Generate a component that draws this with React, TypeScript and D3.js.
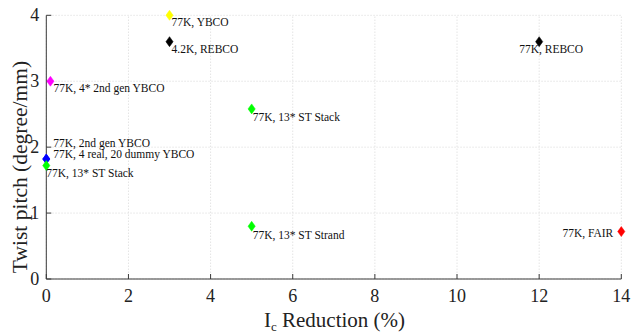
import React from "react";
import * as d3 from "d3";

const W = 633;
const H = 332;

const reduction = [3, 3, 0.1, 5, 0, 0, 0, 5, 12, 14];
const pitch = [4.0, 3.6, 3.0, 2.58, 1.82, 1.82, 1.72, 0.8, 3.6, 0.72];
const colors = ["#ffff00", "#000000", "#ff00ff", "#00ff00", "#0000ff", "#0000ff", "#00ff00", "#00ff00", "#000000", "#ff0000"];
const labels = [
  "77K, YBCO",
  "4.2K, REBCO",
  "77K, 4* 2nd gen YBCO",
  "77K, 13* ST Stack",
  "77K, 2nd gen YBCO",
  "77K, 4 real, 20 dummy YBCO",
  "77K, 13* ST Stack",
  "77K, 13* ST Strand",
  "77K, REBCO",
  "77K, FAIR",
];
// label placement: [dx, dy, anchor]
const labelPos: [number, number, string][] = [
  [2, 11, "start"],
  [2, 11, "start"],
  [3, 11, "start"],
  [1, 12, "start"],
  [7, -12, "start"],
  [7, -1, "start"],
  [0, 11, "start"],
  [1, 13, "start"],
  [-20, 11, "start"],
  [-8, 5, "end"],
];

const xTicks = [0, 2, 4, 6, 8, 10, 12, 14];
const yTicks = [0, 1, 2, 3, 4];

const FONT = "'Liberation Serif', 'Times New Roman', 'DejaVu Serif', serif";

export default function App() {
  const x = d3.scaleLinear().domain([0, 14]).range([46.3, 621.3]);
  const y = d3.scaleLinear().domain([0, 4]).range([279, 15.3]);
  const axisColor = "#3a3a3a";
  const diamond = (cx: number, cy: number) =>
    `M${cx},${cy - 5} L${cx + 3.6},${cy} L${cx},${cy + 5} L${cx - 3.6},${cy} Z`;
  return (
    <svg
      width={W}
      height={H}
      style={{ position: "absolute", left: 0, top: 0, background: "#fff", fontFamily: FONT }}
    >
      <rect x={0} y={0} width={W} height={H} fill="#fff" />
      {/* grid */}
      {xTicks.map((t) => (
        <line key={"gx" + t} x1={x(t)} x2={x(t)} y1={y(0)} y2={y(4)} stroke="#e4e4e4" strokeDasharray="1.5,1.5" strokeWidth={1} />
      ))}
      {yTicks.map((t) => (
        <line key={"gy" + t} x1={x(0)} x2={x(14)} y1={y(t)} y2={y(t)} stroke="#e4e4e4" strokeDasharray="1.5,1.5" strokeWidth={1} />
      ))}
      {/* axes */}
      <line x1={x(0)} x2={x(14)} y1={y(0)} y2={y(0)} stroke={axisColor} strokeWidth={1} />
      <line x1={x(0)} x2={x(0)} y1={y(0)} y2={y(4)} stroke={axisColor} strokeWidth={1} />
      {xTicks.map((t) => (
        <g key={"xt" + t}>
          <line x1={x(t)} x2={x(t)} y1={y(0)} y2={y(0) - 5} stroke={axisColor} />
          <text x={x(t)} y={y(0) + 23} textAnchor="middle" fontSize={18} fill="#222" style={{ fontFamily: FONT }}>
            {t}
          </text>
        </g>
      ))}
      {yTicks.map((t) => (
        <g key={"yt" + t}>
          <line x1={x(0)} x2={x(0) + 5} y1={y(t)} y2={y(t)} stroke={axisColor} />
          <text x={x(0) - 7} y={y(t) + 6} textAnchor="end" fontSize={18} fill="#222" style={{ fontFamily: FONT }}>
            {t}
          </text>
        </g>
      ))}
      {/* axis labels */}
      <text
        transform={`translate(27,167) rotate(-90)`}
        textAnchor="middle"
        fontSize={21.5}
        fill="#222"
        style={{ fontFamily: FONT }}
      >
        Twist pitch (degree/mm)
      </text>
      <text x={264} y={327} fontSize={21} fill="#222" style={{ fontFamily: FONT }}>
        I
        <tspan fontSize={13} dy={4}>c</tspan>
        <tspan dy={-4}> Reduction (%)</tspan>
      </text>
      {/* points */}
      {reduction.map((r, i) => (
        <path key={"p" + i} d={diamond(x(r), y(pitch[i]))} fill={colors[i]} stroke={colors[i]} strokeWidth={0.5} />
      ))}
      {reduction.map((r, i) => (
        <text
          key={"l" + i}
          x={x(r) + labelPos[i][0]}
          y={y(pitch[i]) + labelPos[i][1]}
          textAnchor={labelPos[i][2]}
          fontSize={11.5}
          fill="#111"
          style={{ fontFamily: FONT }}
        >
          {labels[i]}
        </text>
      ))}
    </svg>
  );
}
